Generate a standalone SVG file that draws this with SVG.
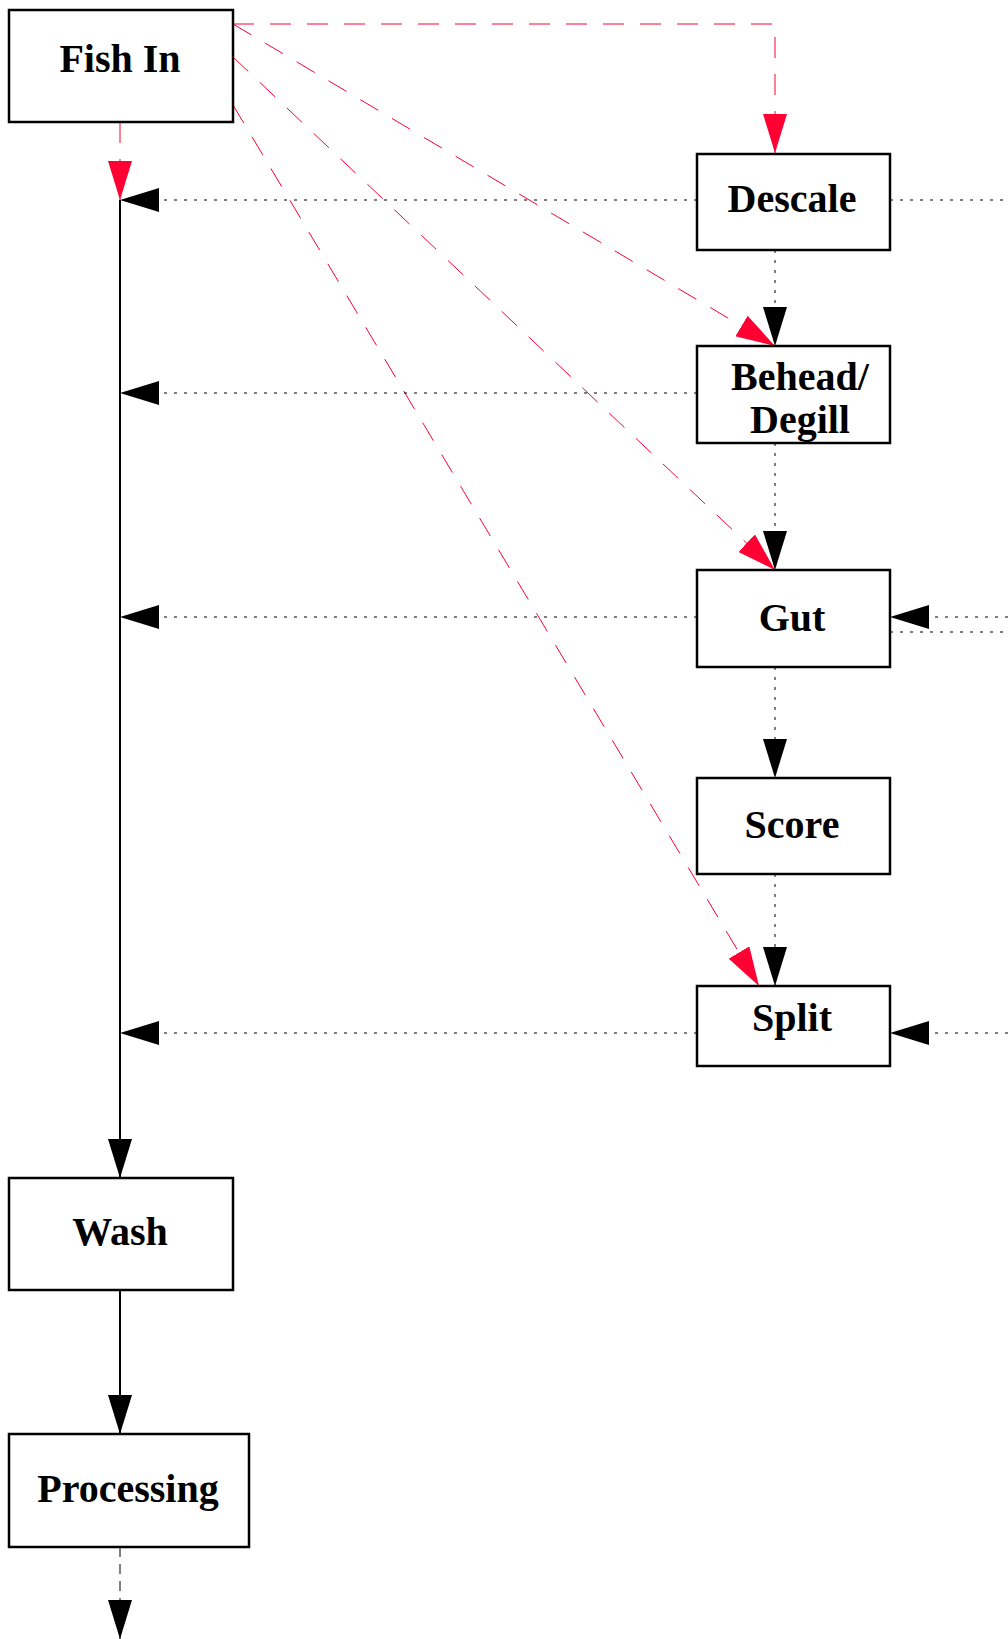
<svg xmlns="http://www.w3.org/2000/svg" width="1008" height="1639" viewBox="0 0 1008 1639">
  <style>
    .box { fill: #ffffff; stroke: #000000; stroke-width: 2.5; }
    .label { font-family: "Liberation Serif", "Times New Roman", serif; font-weight: bold; font-size: 40px; fill: #000000; text-anchor: middle; }
    .solid { fill: none; stroke: #000000; stroke-width: 2; }
    .dotted { fill: none; stroke: #000000; stroke-width: 1; stroke-dasharray: 3 7; }
    .dashed { fill: none; stroke: #000000; stroke-width: 1; stroke-dasharray: 10 7; }
    .red { fill: none; stroke: #ff0033; stroke-width: 1; stroke-dasharray: 21 16; }
  </style>
  <defs>
    <marker id="arrowBlack" markerUnits="userSpaceOnUse" markerWidth="39" markerHeight="24" refX="39" refY="12" orient="auto">
      <path d="M0,0 L39,12 L0,24 Z" fill="#000000"/>
    </marker>
    <marker id="arrowRed" markerUnits="userSpaceOnUse" markerWidth="39" markerHeight="24" refX="39" refY="12" orient="auto">
      <path d="M0,0 L39,12 L0,24 Z" fill="#ff0033"/>
    </marker>
  </defs>

  <g id="connectors">
    <!-- red feeds from the intake -->
    <path class="red" d="M233,24 H775 V153" marker-end="url(#arrowRed)"/>
    <path class="red" d="M233,24 L775,346" marker-end="url(#arrowRed)"/>
    <path class="red" d="M233,57 L775,570" marker-end="url(#arrowRed)"/>
    <path class="red" d="M233,105 L759,986" marker-end="url(#arrowRed)"/>
    <path class="red" d="M120,122 V200" marker-end="url(#arrowRed)"/>

    <!-- main line down to washing -->
    <path class="solid" d="M120,200 V1178" marker-end="url(#arrowBlack)"/>
    <path class="solid" d="M120,1290 V1434" marker-end="url(#arrowBlack)"/>
    <path class="dashed" d="M120,1547 V1639" marker-end="url(#arrowBlack)"/>

    <!-- step chain -->
    <path class="dotted" d="M775,250 V346" marker-end="url(#arrowBlack)"/>
    <path class="dotted" d="M775,443 V570" marker-end="url(#arrowBlack)"/>
    <path class="dotted" d="M775,667 V778" marker-end="url(#arrowBlack)"/>
    <path class="dotted" d="M775,874 V986" marker-end="url(#arrowBlack)"/>

    <!-- returns to main line -->
    <path class="dotted" d="M697,200 H120" marker-end="url(#arrowBlack)"/>
    <path class="dotted" d="M697,393 H120" marker-end="url(#arrowBlack)"/>
    <path class="dotted" d="M697,617 H120" marker-end="url(#arrowBlack)"/>
    <path class="dotted" d="M697,1033 H120" marker-end="url(#arrowBlack)"/>

    <!-- off-page links on the right -->
    <path class="dotted" d="M890,200 H1008"/>
    <path class="dotted" d="M1008,617 H890" marker-end="url(#arrowBlack)"/>
    <path class="dotted" d="M890,632 H1008"/>
    <path class="dotted" d="M1008,1033 H890" marker-end="url(#arrowBlack)"/>
  </g>

  <g id="fish-in">
    <rect class="box" x="9" y="10" width="224" height="112"/>
    <text class="label" x="120" y="72">Fish In</text>
  </g>
  <g id="descale">
    <rect class="box" x="697" y="154" width="193" height="96"/>
    <text class="label" x="792" y="212">Descale</text>
  </g>
  <g id="behead-degill">
    <rect class="box" x="697" y="346" width="193" height="97"/>
    <text class="label" x="800" y="390">Behead/</text>
    <text class="label" x="800" y="433">Degill</text>
  </g>
  <g id="gut">
    <rect class="box" x="697" y="570" width="193" height="97"/>
    <text class="label" x="792" y="631">Gut</text>
  </g>
  <g id="score">
    <rect class="box" x="697" y="778" width="193" height="96"/>
    <text class="label" x="792" y="838">Score</text>
  </g>
  <g id="split">
    <rect class="box" x="697" y="986" width="193" height="80"/>
    <text class="label" x="792" y="1031">Split</text>
  </g>
  <g id="wash">
    <rect class="box" x="9" y="1178" width="224" height="112"/>
    <text class="label" x="120" y="1245">Wash</text>
  </g>
  <g id="processing">
    <rect class="box" x="9" y="1434" width="240" height="113"/>
    <text class="label" x="128" y="1502">Processing</text>
  </g>
</svg>
